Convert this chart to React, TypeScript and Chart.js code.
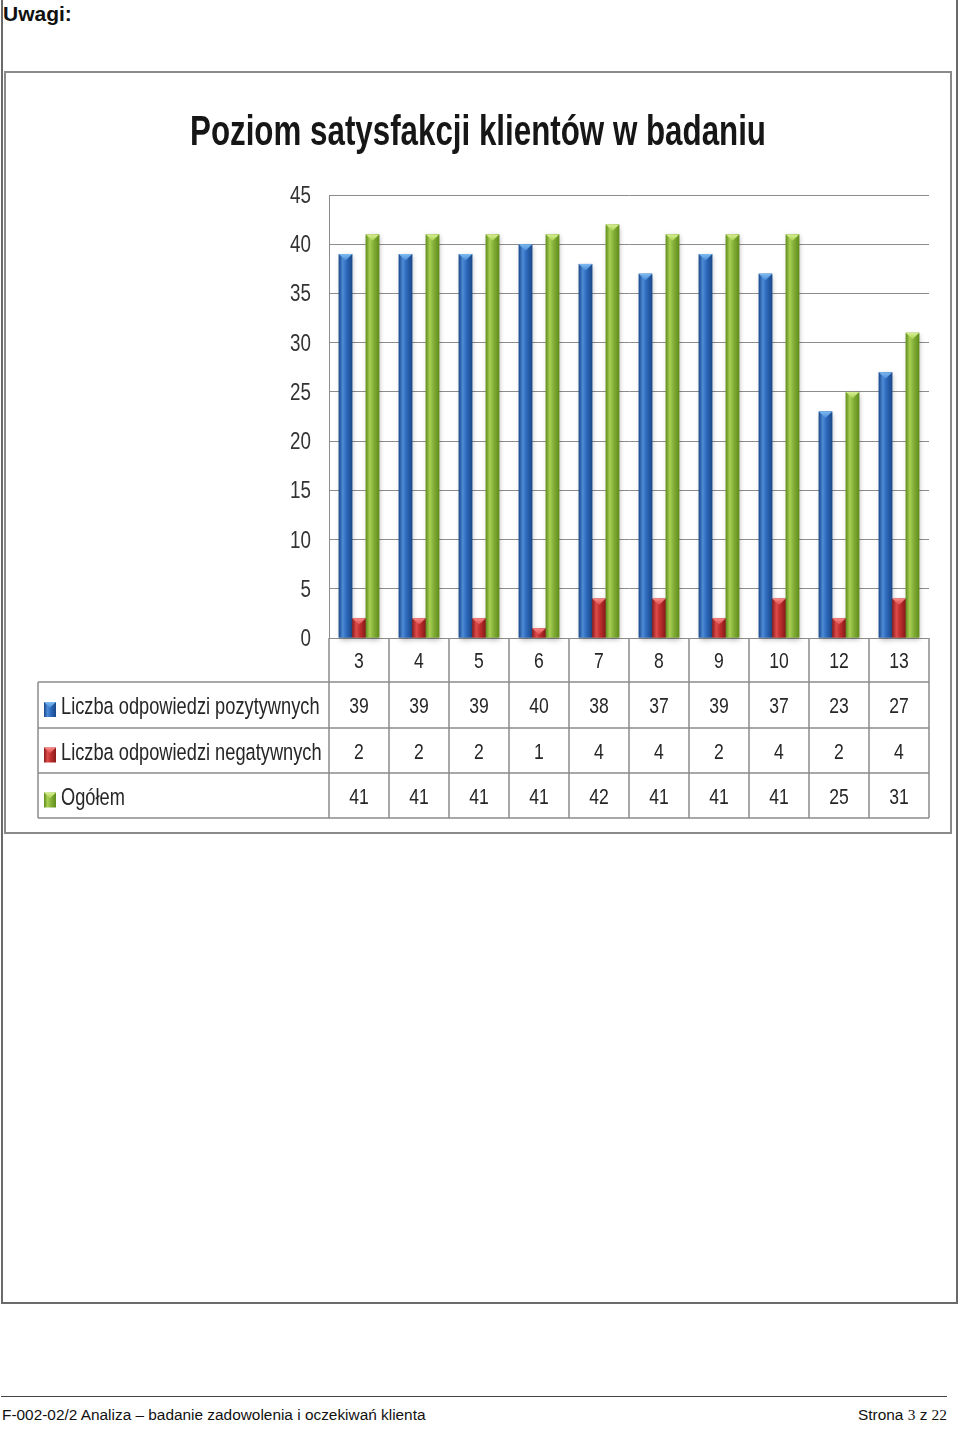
import React, { useEffect, useRef } from "react";
import { Chart, registerables } from "chart.js";

Chart.register(...registerables);

// ---- data ----
const categories = ["3", "4", "5", "6", "7", "8", "9", "10", "12", "13"];
const positive = [39, 39, 39, 40, 38, 37, 39, 37, 23, 27];
const negative = [2, 2, 2, 1, 4, 4, 2, 4, 2, 4];
const total = [41, 41, 41, 41, 42, 41, 41, 41, 25, 31];
const seriesNames = [
  "Liczba odpowiedzi pozytywnych",
  "Liczba odpowiedzi negatywnych",
  "Ogółem",
];
const chartTitle = "Poziom satysfakcji klientów w badaniu";
const yMin = 0;
const yMax = 45;
const yStep = 5;

// ---- style ----
const palette = [
  { dark: "#1b4889", mid: "#2d6bbd", light: "#4d8cd8", cap: "#7cbaf0" },
  { dark: "#8a1b1b", mid: "#c0302e", light: "#dd4c4a", cap: "#f68a88" },
  { dark: "#5f8c1c", mid: "#87b33a", light: "#a9d054", cap: "#d8ef92" },
];
const FONT = '"Liberation Sans", Arial, "DejaVu Sans", sans-serif';
const GRID = "#8c8c8c";
const TEXT = "#262626";

type TextOpts = {
  align?: CanvasTextAlign;
  sx?: number;
  weight?: string;
  color?: string;
  fitWidth?: number;
};

function drawText(
  ctx: CanvasRenderingContext2D,
  str: string,
  x: number,
  y: number,
  size: number,
  o: TextOpts = {}
) {
  ctx.save();
  ctx.font = `${o.weight || "normal"} ${size}px ${FONT}`;
  let sx = o.sx ?? 0.8;
  if (o.fitWidth) {
    const w = ctx.measureText(str).width;
    sx = o.fitWidth / w;
  }
  ctx.translate(x, y);
  ctx.scale(sx, 1);
  ctx.textAlign = o.align || "left";
  ctx.textBaseline = "alphabetic";
  ctx.fillStyle = o.color || TEXT;
  ctx.fillText(str, 0, 0);
  ctx.restore();
}

function paintBar(
  ctx: CanvasRenderingContext2D,
  left: number,
  top: number,
  width: number,
  bottom: number,
  c: { dark: string; mid: string; light: string; cap: string },
  shadow: boolean
) {
  const h = bottom - top;
  if (h <= 0) return;
  ctx.save();
  if (shadow) {
    ctx.shadowColor = "rgba(0,0,0,0.28)";
    ctx.shadowBlur = 5;
    ctx.shadowOffsetY = 2;
    ctx.shadowOffsetX = 1;
  }
  const g = ctx.createLinearGradient(left, 0, left + width, 0);
  g.addColorStop(0, c.dark);
  g.addColorStop(0.3, c.light);
  g.addColorStop(0.55, c.mid);
  g.addColorStop(1, c.dark);
  ctx.fillStyle = g;
  ctx.fillRect(left, top, width, h);
  ctx.restore();
  // triangular cap
  const th = Math.min(width * 0.48, h);
  ctx.save();
  const cg = ctx.createLinearGradient(0, top, 0, top + th);
  cg.addColorStop(0, c.cap);
  cg.addColorStop(1, c.light);
  ctx.fillStyle = cg;
  ctx.beginPath();
  ctx.moveTo(left, top);
  ctx.lineTo(left + width, top);
  ctx.lineTo(left + width / 2, top + th);
  ctx.closePath();
  ctx.fill();
  ctx.restore();
}

const rowHeights = [44, 46, 45, 45];
const tableLeft = 38;

const customPlugin = {
  id: "excelLook",
  afterDatasetsDraw(chart: any) {
    const ctx: CanvasRenderingContext2D = chart.ctx;
    chart.data.datasets.forEach((_: any, d: number) => {
      const meta = chart.getDatasetMeta(d);
      meta.data.forEach((el: any) => {
        const { x, y, base, width } = el.getProps(["x", "y", "base", "width"], true);
        paintBar(ctx, x - width / 2, y, width, base, palette[d], true);
      });
    });
  },
  afterDraw(chart: any) {
    const ctx: CanvasRenderingContext2D = chart.ctx;
    const area = chart.chartArea;
    const xs = chart.scales.x;
    const ys = chart.scales.y;

    // title
    drawText(ctx, chartTitle, 478, 145, 43, {
      align: "center",
      weight: "bold",
      color: "#161616",
      fitWidth: 576,
    });

    // y tick labels
    ys.ticks.forEach((t: any) => {
      const py = ys.getPixelForValue(t.value);
      drawText(ctx, String(t.value), area.left - 18, py + 8, 23.5, {
        align: "right",
        sx: 0.8,
        color: "#333",
      });
    });

    // data table
    const n = categories.length;
    const catW = (area.right - area.left) / n;
    const rows: number[] = [area.bottom];
    rowHeights.forEach((h) => rows.push(rows[rows.length - 1] + h));
    const tBottom = rows[rows.length - 1];

    ctx.save();
    ctx.strokeStyle = GRID;
    ctx.lineWidth = 1.5;
    ctx.beginPath();
    for (let i = 0; i <= n; i++) {
      const bx = i < n ? xs.getPixelForValue(i) - catW / 2 : xs.getPixelForValue(n - 1) + catW / 2;
      ctx.moveTo(bx, rows[0]);
      ctx.lineTo(bx, tBottom);
    }
    ctx.moveTo(tableLeft, rows[1]);
    ctx.lineTo(tableLeft, tBottom);
    for (let r = 1; r < rows.length; r++) {
      ctx.moveTo(tableLeft, rows[r]);
      ctx.lineTo(area.right, rows[r]);
    }
    ctx.stroke();
    ctx.restore();

    const values = [positive, negative, total];
    // category row
    categories.forEach((c, i) => {
      const cx = xs.getPixelForValue(i);
      drawText(ctx, c, cx, (rows[0] + rows[1]) / 2 + 8, 22.5, { align: "center", sx: 0.78 });
    });
    values.forEach((arr, r) => {
      const cy = (rows[r + 1] + rows[r + 2]) / 2;
      // legend key
      paintBar(ctx, 44, cy - 3, 12, cy + 12, palette[r], false);
      drawText(ctx, seriesNames[r], 61, cy + 9, 23.7, { sx: 0.77 });
      arr.forEach((v, i) => {
        const cx = xs.getPixelForValue(i);
        drawText(ctx, String(v), cx, cy + 8, 22.5, { align: "center", sx: 0.78 });
      });
    });
  },
};

export default function App() {
  const ref = useRef<HTMLCanvasElement | null>(null);

  useEffect(() => {
    if (!ref.current) return;
    const chart = new Chart(ref.current, {
      type: "bar",
      data: {
        labels: categories,
        datasets: [
          { label: seriesNames[0], data: positive, backgroundColor: palette[0].mid, borderWidth: 0 },
          { label: seriesNames[1], data: negative, backgroundColor: palette[1].mid, borderWidth: 0 },
          { label: seriesNames[2], data: total, backgroundColor: palette[2].mid, borderWidth: 0 },
        ],
      },
      options: {
        responsive: false,
        animation: false,
        devicePixelRatio: window.devicePixelRatio || 1,
        layout: { padding: { left: 0, right: 31, top: 195, bottom: 202 } },
        datasets: { bar: { categoryPercentage: 0.675, barPercentage: 1 } },
        plugins: {
          legend: { display: false },
          title: { display: false },
          tooltip: { enabled: false },
        },
        scales: {
          x: {
            grid: { display: false },
            border: { display: false },
            ticks: { display: false },
            afterFit: (s: any) => {
              s.height = 0;
            },
          },
          y: {
            min: yMin,
            max: yMax,
            ticks: { stepSize: yStep, display: false },
            grid: { color: GRID, lineWidth: 1, drawTicks: false },
            border: { display: true, color: GRID, width: 1 },
            afterFit: (s: any) => {
              s.width = 329;
            },
          },
        },
      } as any,
      plugins: [customPlugin],
    });
    return () => chart.destroy();
  }, []);

  const arial = '"Liberation Sans", Arial, sans-serif';
  const serif = '"Liberation Serif", "Times New Roman", serif';

  return (
    <div
      style={{
        position: "absolute",
        left: 0,
        top: 0,
        width: 960,
        height: 1438,
        background: "#fff",
        fontFamily: arial,
        overflow: "hidden",
      }}
    >
      {/* page frame */}
      <div style={{ position: "absolute", left: 1, top: -2, width: 957, height: 1306, borderLeft: "2px solid #6a6a6a", borderRight: "2px solid #6a6a6a", borderBottom: "2px solid #6a6a6a", boxSizing: "border-box" }} />
      <div style={{ position: "absolute", left: 3, top: 3, fontWeight: "bold", fontSize: 21, color: "#111", lineHeight: "22px" }}>Uwagi:</div>
      {/* chart frame */}
      <div style={{ position: "absolute", left: 4, top: 71, width: 948, height: 763, border: "2px solid #8a8a8a", boxSizing: "border-box" }} />
      <canvas ref={ref} width={960} height={840} style={{ position: "absolute", left: 0, top: 0, width: 960, height: 840 }} />
      {/* footer */}
      <div style={{ position: "absolute", left: 1, top: 1396, width: 946, height: 0, borderTop: "1px solid #444" }} />
      <div style={{ position: "absolute", left: 2, top: 1406, fontSize: 15.4, color: "#111", whiteSpace: "nowrap", lineHeight: "18px" }}>
        F-002-02/2 Analiza – badanie zadowolenia i oczekiwań klienta
      </div>
      <div style={{ position: "absolute", right: 13, top: 1406, fontSize: 15.4, color: "#111", whiteSpace: "nowrap", lineHeight: "18px" }}>
        Strona <span style={{ fontFamily: serif }}>3</span> z <span style={{ fontFamily: serif }}>22</span>
      </div>
    </div>
  );
}
